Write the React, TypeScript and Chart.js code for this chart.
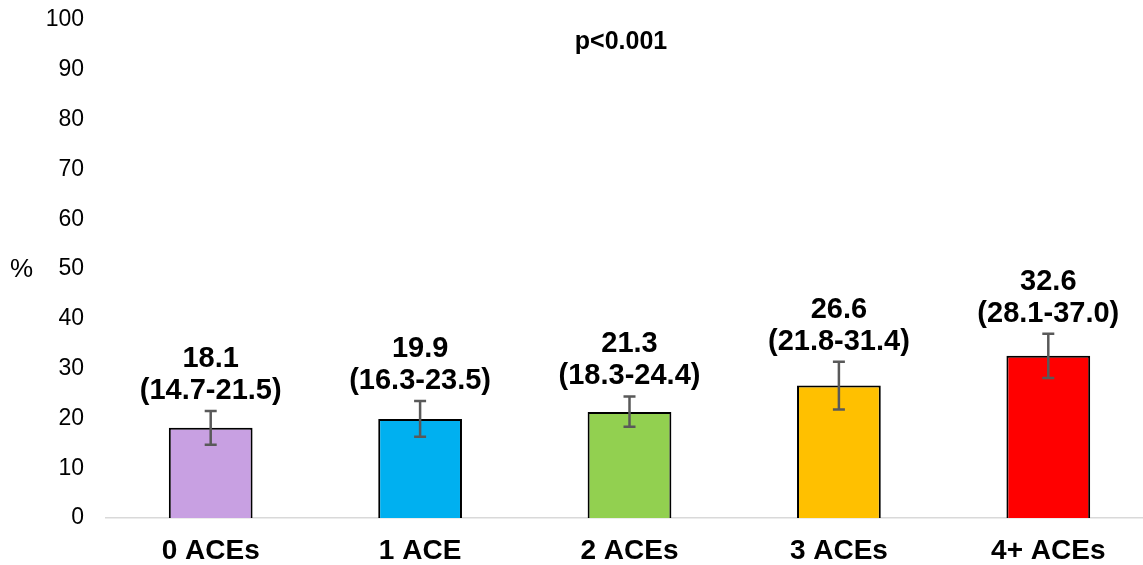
import React, { useEffect, useRef } from "react";
import { Chart, registerables } from "chart.js";

Chart.register(...registerables);

const categories = ["0 ACEs", "1 ACE", "2 ACEs", "3 ACEs", "4+ ACEs"];
const values = [18.1, 19.9, 21.3, 26.6, 32.6];
const lowerCI = [14.7, 16.3, 18.3, 21.8, 28.1];
const upperCI = [21.5, 23.5, 24.4, 31.4, 37.0];
const ciLabels = ["(14.7-21.5)", "(16.3-23.5)", "(18.3-24.4)", "(21.8-31.4)", "(28.1-37.0)"];
const barColors = ["#C8A0E2", "#00B0F0", "#92D050", "#FFC000", "#FF0000"];
const pValueText = "p<0.001";
const yAxisTitle = "%";

const FONT = "'Liberation Sans', Arial, sans-serif";

const overlayPlugin = {
  id: "overlay",
  afterDatasetsDraw(chart: any) {
    const ctx = chart.ctx;
    const meta = chart.getDatasetMeta(0);
    const y = chart.scales.y;
    ctx.save();
    meta.data.forEach((bar: any, i: number) => {
      const x = bar.x;
      const yl = y.getPixelForValue(lowerCI[i]);
      const yu = y.getPixelForValue(upperCI[i]);
      ctx.strokeStyle = "#595959";
      ctx.lineWidth = 2.5;
      ctx.beginPath();
      ctx.moveTo(x, yl);
      ctx.lineTo(x, yu);
      ctx.moveTo(x - 6, yl);
      ctx.lineTo(x + 6, yl);
      ctx.moveTo(x - 6, yu);
      ctx.lineTo(x + 6, yu);
      ctx.stroke();
      ctx.fillStyle = "#000";
      ctx.font = `bold 29px ${FONT}`;
      ctx.textAlign = "center";
      ctx.textBaseline = "alphabetic";
      ctx.fillText(ciLabels[i], x, yu - 12);
      ctx.fillText(values[i].toFixed(1), x, yu - 44);
    });
    ctx.font = `bold 25px ${FONT}`;
    ctx.textAlign = "center";
    ctx.textBaseline = "middle";
    ctx.fillText(pValueText, 621, 42);
    ctx.font = `26px ${FONT}`;
    ctx.fillText(yAxisTitle, 21.5, 270);
    ctx.restore();
  },
};

export default function App() {
  const ref = useRef<HTMLCanvasElement>(null);
  useEffect(() => {
    document.body.style.margin = "0";
    const chart = new Chart(ref.current!, {
      type: "bar",
      data: {
        labels: categories,
        datasets: [
          {
            data: values,
            backgroundColor: barColors,
            borderColor: "#000",
            borderWidth: 2,
            barPercentage: 0.4,
            categoryPercentage: 1,
          },
        ],
      },
      options: {
        animation: false,
        responsive: false,
        layout: { padding: { top: 20, right: 0, bottom: 0, left: 0 } },
        plugins: { legend: { display: false }, tooltip: { enabled: false } },
        scales: {
          y: {
            min: 0,
            max: 100,
            ticks: {
              stepSize: 10,
              color: "#000",
              padding: 14,
              font: { size: 23, family: FONT },
            },
            grid: { display: false },
            border: { display: false },
            afterFit(scale: any) {
              scale.width = 106;
              scale.paddingTop = 0;
              scale.paddingBottom = 0;
            },
          },
          x: {
            ticks: {
              color: "#000",
              padding: 8,
              font: { size: 28, weight: "bold", family: FONT },
            },
            grid: { display: false },
            border: { display: true, color: "#D9D9D9", width: 1.5 },
            afterFit(scale: any) {
              scale.height = 47;
              scale.paddingLeft = 0;
              scale.paddingRight = 0;
            },
          },
        },
      },
      plugins: [overlayPlugin],
    });
    return () => chart.destroy();
  }, []);
  return (
    <div style={{ width: 1143, height: 565, overflow: "hidden" }}>
      <canvas ref={ref} width={1153} height={565} style={{ display: "block" }} />
    </div>
  );
}
